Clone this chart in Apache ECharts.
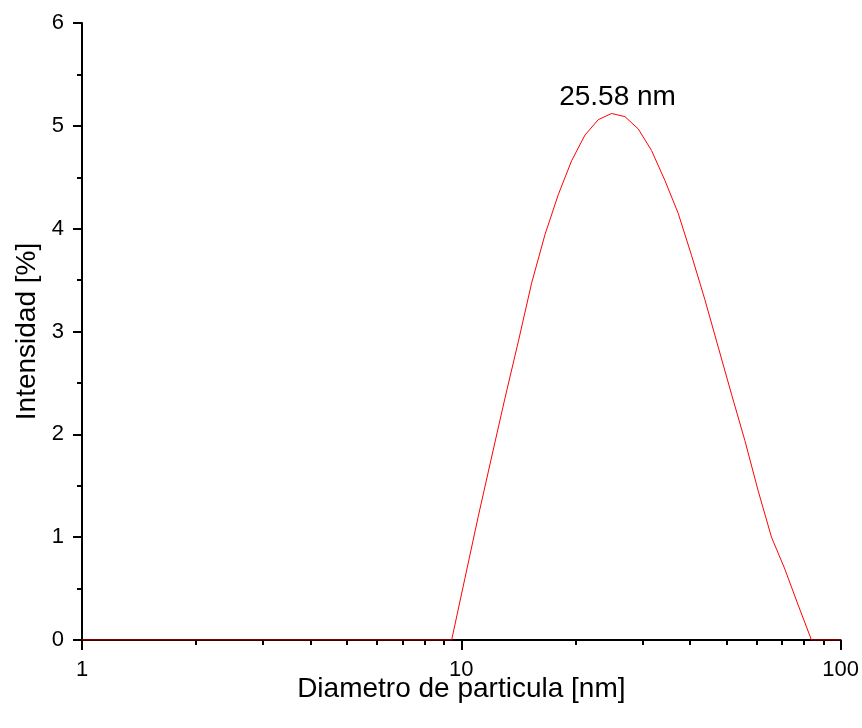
<!DOCTYPE html>
<html>
<head>
<meta charset="utf-8">
<script src="https://cdn.jsdelivr.net/npm/echarts@6/dist/echarts.min.js"></script>
<style>
  html, body { margin: 0; background: #fff; }
  #chart { width: 862px; height: 728px; }
</style>
</head>
<body>
<div id="chart"></div>
<script>
// particle size (nm) and intensity (%)
const diameters = [1, 9.43, 10.22, 11.08, 12.02, 13.03, 14.13, 15.32, 16.61, 18.01, 19.53,
  21.18, 22.96, 24.89, 26.99, 29.27, 31.73, 34.40, 37.30, 40.45, 43.86, 47.55, 51.56,
  55.91, 60.62, 65.72, 71.26, 77.27, 83.78, 100]
const intensity = [0, 0, 0.60, 1.20, 1.78, 2.35, 2.90, 3.47, 3.94, 4.33, 4.66,
  4.91, 5.06, 5.12, 5.09, 4.97, 4.76, 4.47, 4.15, 3.74, 3.31, 2.85, 2.39,
  1.94, 1.45, 1.00, 0.69, 0.34, 0, 0]
const peakLabel = '25.58 nm'
const peakIndex = 13

const font = 'Liberation Sans, Arial, sans-serif'

const chart = echarts.init(document.getElementById('chart'))

chart.setOption({
  animation: false,
  backgroundColor: '#fff',
  grid: {
    left: 82,
    right: 20,
    top: 23,
    bottom: 88
  },
  xAxis: {
    type: 'log',
    logBase: 10,
    min: 1,
    max: 100,
    name: 'Diametro de particula [nm]',
    nameLocation: 'middle',
    nameGap: 35,
    nameMoveOverlap: false,
    nameTextStyle: { fontSize: 28, color: '#000', fontFamily: font },
    axisLine: { show: true, lineStyle: { color: '#000', width: 2 } },
    axisTick: { show: true, length: 10, lineStyle: { color: '#000', width: 2 } },
    minorTick: { show: true, splitNumber: 9, length: 5, lineStyle: { color: '#000', width: 2 } },
    axisLabel: { fontSize: 22, color: '#000', fontFamily: font, margin: 19 },
    splitLine: { show: false },
    minorSplitLine: { show: false }
  },
  yAxis: {
    type: 'value',
    min: 0,
    max: 6,
    interval: 1,
    name: 'Intensidad [%]',
    nameLocation: 'middle',
    nameGap: 41,
    nameMoveOverlap: false,
    nameTextStyle: { fontSize: 28, color: '#000', fontFamily: font },
    axisLine: { show: true, lineStyle: { color: '#000', width: 2 } },
    axisTick: { show: true, length: 9, lineStyle: { color: '#000', width: 2 } },
    minorTick: { show: true, splitNumber: 2, length: 5, lineStyle: { color: '#000', width: 2 } },
    axisLabel: { fontSize: 22, color: '#000', fontFamily: font, margin: 18 },
    splitLine: { show: false },
    minorSplitLine: { show: false }
  },
  series: [{
    type: 'line',
    data: diameters.map((d, i) => [d, intensity[i]]),
    showSymbol: false,
    symbol: 'none',
    lineStyle: { color: '#ff0000', width: 1 },
    z: 3,
    markPoint: {
      symbol: 'circle',
      symbolSize: 0,
      data: [{
        coord: [diameters[peakIndex], intensity[peakIndex]],
        label: {
          show: true,
          position: 'top',
          distance: 2,
          offset: [6, 0],
          formatter: peakLabel,
          color: '#000',
          fontSize: 28,
          fontFamily: font
        }
      }]
    }
  }]
})
</script>
</body>
</html>
